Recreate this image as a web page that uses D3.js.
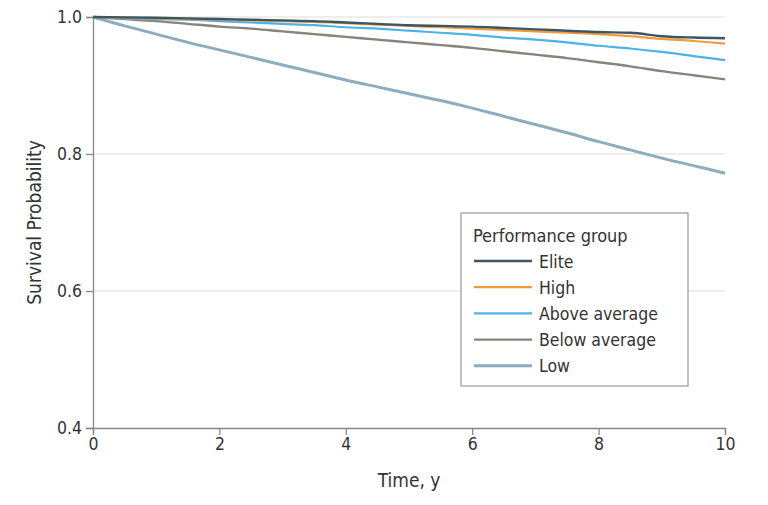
<!DOCTYPE html>
<html>
<head>
<meta charset="utf-8">
<script src="https://cdn.jsdelivr.net/npm/d3@7"></script>
<style>
  body { margin: 0; background: #fff; }
  text { font-family: "DejaVu Sans Condensed", "Liberation Sans Narrow", sans-serif; fill: #333; }
</style>
</head>
<body>
<div id="chart"></div>
<script>
// survival curves, every half year
const years = [0, 0.5, 1, 1.5, 2, 2.5, 3, 3.5, 4, 4.5, 5, 5.5, 6, 6.5, 7, 7.5, 8, 8.5, 9, 9.5, 10];
const groups = ["Elite", "High", "Above average", "Below average", "Low"];
const elite = [1, 0.9995, 0.999, 0.998, 0.997, 0.996, 0.995, 0.994, 0.992, 0.990, 0.988, 0.987, 0.986, 0.984, 0.982, 0.980, 0.978, 0.977, 0.972, 0.970, 0.969];
const high = [1, 0.999, 0.998, 0.997, 0.996, 0.995, 0.994, 0.993, 0.991, 0.989, 0.987, 0.985, 0.983, 0.981, 0.979, 0.977, 0.975, 0.972, 0.968, 0.965, 0.961];
const aboveAvg = [1, 0.998, 0.997, 0.996, 0.994, 0.992, 0.990, 0.988, 0.985, 0.983, 0.980, 0.977, 0.974, 0.970, 0.967, 0.963, 0.958, 0.954, 0.949, 0.943, 0.937];
const belowAvg = [1, 0.997, 0.994, 0.990, 0.986, 0.983, 0.979, 0.975, 0.971, 0.967, 0.963, 0.959, 0.955, 0.950, 0.945, 0.940, 0.934, 0.928, 0.921, 0.915, 0.909];
const low = [1, 0.987, 0.975, 0.963, 0.952, 0.941, 0.930, 0.919, 0.908, 0.898, 0.888, 0.878, 0.867, 0.855, 0.843, 0.831, 0.818, 0.806, 0.794, 0.783, 0.772];
const xTicks = [0, 2, 4, 6, 8, 10];
const yTicks = [0.4, 0.6, 0.8, 1.0];

const seriesValues = [elite, high, aboveAvg, belowAvg, low];
const colors = ["#3c5663", "#f29a3c", "#4bb2ea", "#8a827c", "#8eacbf"];
const widths = [2.4, 2.2, 2.2, 2.4, 3];

const W = 768, H = 505;
const margin = {left: 93, right: 43, top: 17, bottom: 77};

const svg = d3.select("#chart").append("svg")
  .attr("width", W).attr("height", H);

const x = d3.scaleLinear().domain([0, 10]).range([margin.left, W - margin.right]);
const y = d3.scaleLinear().domain([0.4, 1.0]).range([H - margin.bottom, margin.top]);

// gridlines
svg.append("g")
  .selectAll("line")
  .data(yTicks.filter(d => d > 0.4))
  .enter().append("line")
  .attr("x1", x(0)).attr("x2", x(10))
  .attr("y1", d => y(d)).attr("y2", d => y(d))
  .attr("stroke", "#dddddd").attr("stroke-width", 1.2);

// axes
const xAxis = svg.append("g")
  .attr("transform", `translate(0,${y(0.4)})`)
  .call(d3.axisBottom(x).tickValues(xTicks).tickSize(7).tickPadding(3).tickFormat(d3.format("d")));
const yAxis = svg.append("g")
  .attr("transform", `translate(${x(0)},0)`)
  .call(d3.axisLeft(y).tickValues(yTicks).tickSize(7).tickPadding(4).tickFormat(d3.format(".1f")));

[xAxis, yAxis].forEach(a => {
  a.select(".domain").attr("stroke", "#888").attr("stroke-width", 1.3);
  a.selectAll(".tick line").attr("stroke", "#888").attr("stroke-width", 1.3);
  a.selectAll(".tick text").attr("font-size", 17.5).attr("fill", "#333")
    .style("font-family", '"DejaVu Sans Condensed", sans-serif');
});

// curves
const line = d3.line()
  .x((d, i) => x(years[i]))
  .y(d => y(d))
  .curve(d3.curveMonotoneX);

// draw low first so upper curves sit on top
for (let i = seriesValues.length - 1; i >= 0; i--) {
  svg.append("path")
    .attr("d", line(seriesValues[i]))
    .attr("fill", "none")
    .attr("stroke", colors[i])
    .attr("stroke-width", widths[i])
    .attr("stroke-linejoin", "round");
}

// axis titles
svg.append("text")
  .attr("x", x(5)).attr("y", 487)
  .attr("text-anchor", "middle")
  .attr("font-size", 19)
  .text("Time, y");

svg.append("text")
  .attr("transform", `translate(41,${y(0.7)}) rotate(-90)`)
  .attr("text-anchor", "middle")
  .attr("font-size", 19)
  .text("Survival Probability");

// legend
const legend = svg.append("g").attr("transform", "translate(461,213)");
legend.append("rect")
  .attr("width", 227).attr("height", 173)
  .attr("fill", "#fff").attr("stroke", "#999").attr("stroke-width", 1.2);
legend.append("text")
  .attr("x", 12).attr("y", 29)
  .attr("font-size", 18)
  .text("Performance group");
groups.forEach((g, i) => {
  const ly = 48 + i * 26.2;
  legend.append("line")
    .attr("x1", 13).attr("x2", 71)
    .attr("y1", ly).attr("y2", ly)
    .attr("stroke", colors[i]).attr("stroke-width", widths[i]);
  legend.append("text")
    .attr("x", 78).attr("y", ly + 6.5)
    .attr("font-size", 17.5)
    .text(g);
});
</script>
</body>
</html>
